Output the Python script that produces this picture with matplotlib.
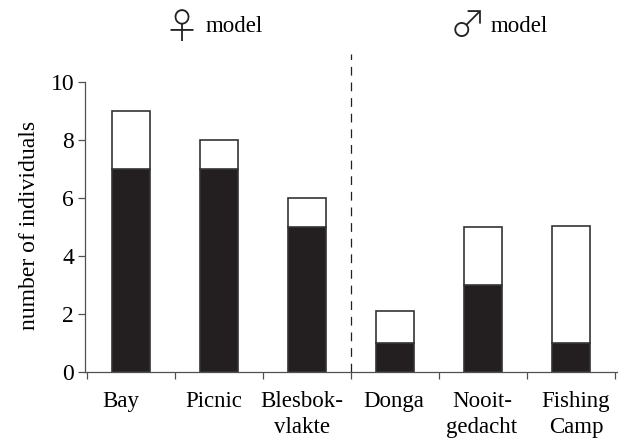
import matplotlib
matplotlib.use("Agg")
import matplotlib.pyplot as plt
import matplotlib.transforms as mtransforms
import numpy as np

categories = ["Bay", "Picnic", "Blesbok-\nvlakte", "Donga", "Nooit-\ngedacht", "Fishing\nCamp"]
black_vals = [7, 7, 5, 1, 3, 1]
total_vals = [9, 8, 6, 2.1, 5, 5.05]
white_vals = [t - b for t, b in zip(total_vals, black_vals)]
group_symbols = ["\u2640", "\u2642"]
group_word = "model"
yticks = [0, 2, 4, 6, 8, 10]

fam = ["Liberation Serif", "DejaVu Serif"]
plt.rcParams["font.family"] = fam
fs = 16.5
dark = "#231f20"
axc = "#505050"

W, H = 624, 443
fig = plt.figure(figsize=(W / 100, H / 100), dpi=100)
ax = fig.add_axes([85.2 / W, 1 - 372 / H, 531.6 / W, 318.5 / H])

x = np.arange(len(categories))
ax.bar(x, black_vals, width=0.44, color=dark, edgecolor="#333333", linewidth=1.2)
ax.bar(x, white_vals, bottom=black_vals, width=0.44, color="white", edgecolor="#333333", linewidth=1.2)

ax.set_xlim(-0.52, len(categories) - 0.48)
ax.set_ylim(0, 11.0)
ax.set_yticks(yticks)
ax.set_yticklabels([str(v) for v in yticks], fontsize=17)
ax.set_xticks(np.arange(len(categories) + 1) - 0.5, minor=False)
ax.set_xticklabels([])
ax.set_xticks(x, minor=True)
ax.set_xticklabels(categories, minor=True, fontsize=fs, linespacing=1.3)
ax.tick_params(axis="x", which="minor", length=0, pad=14)
ax.tick_params(axis="x", which="major", length=5, direction="out", width=0.9, color=axc)
ax.tick_params(axis="y", length=5, direction="out", width=0.9, color=axc, pad=3)

# small horizontal shifts of the category labels (pixels), as in the original layout
label_shift_px = [-10, -5.5, -5, -1.5, -1, 5]
for lab, dx in zip(ax.get_xticklabels(minor=True), label_shift_px):
    lab.set_transform(lab.get_transform() + mtransforms.ScaledTranslation(dx / 100, 0, fig.dpi_scale_trans))

for s in ["top", "right"]:
    ax.spines[s].set_visible(False)
ax.spines["left"].set_bounds(0, 10)
for s in ["left", "bottom"]:
    ax.spines[s].set_color(axc)
    ax.spines[s].set_linewidth(0.9)

ax.plot([2.5, 2.5], [0, 11.0], linestyle=(0, (7, 5.5)), color=dark, linewidth=0.9, clip_on=False)

ax.set_ylabel("number of individuals", fontsize=17)
ax.yaxis.set_label_coords(-0.085, 0.4615)

# group headers
sym_pos = [(181.5, 29), (467.5, 27)]
word_pos = [(206, 32), (491, 32)]
for sym, (sx, sy), (wx, wy) in zip(group_symbols, sym_pos, word_pos):
    fig.text(sx / W, 1 - sy / H, sym, fontsize=26,
             family=["Noto Sans CJK JP", "DejaVu Sans"], fontweight="light",
             ha="center", va="center", color="#222222")
    fig.text(wx / W, 1 - wy / H, group_word, fontsize=fs, ha="left", va="baseline")

fig.savefig("out.png", dpi=100)
